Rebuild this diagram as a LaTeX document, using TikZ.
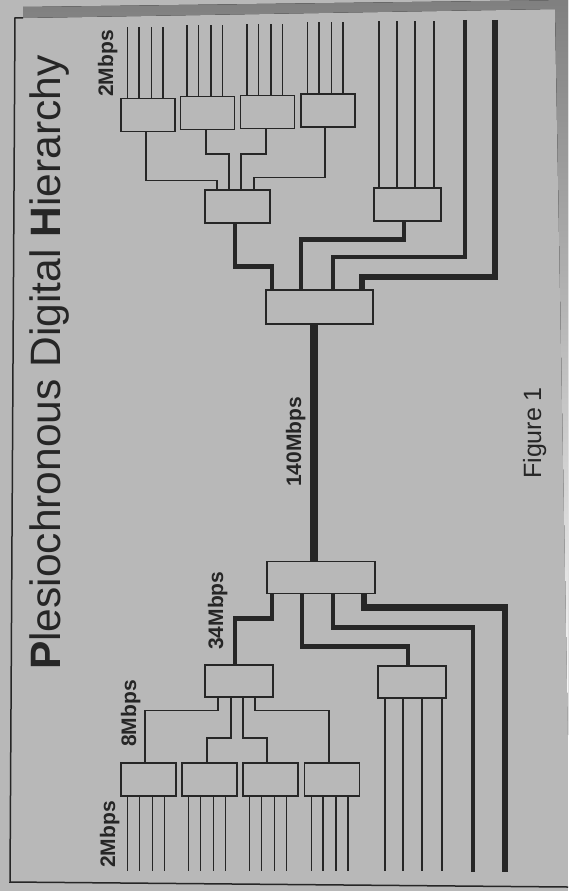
\documentclass[tikz,border=0pt]{standalone}
\usepackage{fontspec}
\setmainfont{Liberation Sans}
\definecolor{paper}{RGB}{184,184,184}
\definecolor{ink}{RGB}{38,38,38}
\definecolor{shade}{RGB}{30,30,30}
\begin{document}
\begin{tikzpicture}[x=1pt,y=-1pt,
  box/.style 2 args={draw=ink,line width=1.4pt,fill=paper,rectangle,inner sep=0pt,minimum width=#1,minimum height=#2},
  ltwo/.style={draw=ink,line width=1.1pt},
  leight/.style={draw=ink,line width=1.4pt},
  leighti/.style={draw=ink,line width=2.2pt},
  lthirty/.style={draw=ink,line width=4.5pt},
  lforty/.style={draw=ink,line width=6.5pt},
  llink/.style={draw=ink,line width=7.5pt},
  lab/.style={rotate=90,anchor=base west,inner sep=0pt,text=ink,font=\bfseries\fontsize{21}{21}\selectfont}]
\useasboundingbox (0,0) rectangle (568,891);
\fill[paper] (0,0) rectangle (568,891);
% frame and shadow
\fill[shade] (23,7) -- (568,0) -- (568,735) -- (555,9) -- (23,18) -- cycle;
\draw[ink,line width=1.5pt] (23,18) -- (15,18) -- (10,882) -- (568,887);
% title and captions
\node[rotate=90,anchor=base west,inner sep=0pt,text=ink,font=\fontsize{42.5}{42.5}\selectfont] (title) at (60,670) {{\bfseries P}lesiochronous Digital {\bfseries H}ierarchy};
\node[rotate=90,anchor=base west,inner sep=0pt,text=ink,font=\fontsize{25}{25}\selectfont] (fig) at (541,479) {Figure 1};
\node[lab] (ltwotop) at (113,97) {2Mbps};
\node[lab] (ltwobot) at (115,868) {2Mbps};
\node[lab] (leightl) at (136,747) {8Mbps};
\node[lab] (lthirtyl) at (223,650) {34Mbps};
\node[lab] (lfortyl) at (301,487) {140Mbps};
% top half boxes
\node[box={54pt}{33pt}] (ta1) at (148,115) {};
\node[box={54pt}{33pt}] (ta2) at (207.5,113) {};
\node[box={54pt}{33pt}] (ta3) at (267.5,112) {};
\node[box={54pt}{33pt}] (ta4) at (328,110.5) {};
\node[box={65pt}{33pt}] (tm) at (237.5,206.5) {};
\node[box={67pt}{33pt}] (tb) at (407.5,204.5) {};
\node[box={107pt}{34pt}] (tx) at (319.5,307) {};
% bottom half boxes
\node[box={108pt}{32pt}] (bx) at (321,577.5) {};
\node[box={68pt}{32pt}] (bm) at (239,681) {};
\node[box={68pt}{32pt}] (bb) at (412,682) {};
\node[box={55pt}{33pt}] (ba1) at (148.5,779.5) {};
\node[box={55pt}{33pt}] (ba2) at (209.5,779.5) {};
\node[box={55pt}{33pt}] (ba3) at (270.5,779.5) {};
\node[box={55pt}{33pt}] (ba4) at (332,779.5) {};
% 2 Mbps tributaries
\foreach \n in {ta1,ta2,ta3,ta4}{\foreach \d in {-20.5,-9,3.5,15}{\draw[ltwo] ([xshift=\d pt]\n.north) -- ++(0,-71);}}
\foreach \n in {ba1,ba2,ba3,ba4}{\foreach \d in {-20.75,-9,4,16}{\draw[ltwo] ([xshift=\d pt]\n.south) -- ++(0,74);}}
\foreach \d in {-28.5,-10.5,7.5,26.5}{\draw[ltwo] ([xshift=\d pt]tb.north) -- ++(0,-166);}
\foreach \d in {-27,-9,10,30}{\draw[ltwo] ([xshift=\d pt]bb.south) -- ++(0,172);}
% 8 Mbps links
\draw[leight] ([xshift=-2pt]ta1.south) -- ++(0,48.5) -| ([xshift=-20.5pt]tm.north);
\draw[leighti] ([xshift=-1.5pt]ta2.south) -- ++(0,24) -| ([xshift=-8.5pt]tm.north);
\draw[leighti] ([xshift=-1.5pt]ta3.south) -- ++(0,24.5) -| ([xshift=3.5pt]tm.north);
\draw[leight] ([xshift=-3pt]ta4.south) -- ++(0,50) -| ([xshift=16.5pt]tm.north);
\draw[leight] ([xshift=-21pt]bm.south) -- ++(0,13) -| ([xshift=-3.5pt]ba1.north);
\draw[leighti] ([xshift=-8pt]bm.south) -- ++(0,40) -| ([xshift=-2.5pt]ba2.north);
\draw[leighti] ([xshift=4pt]bm.south) -- ++(0,40) -| ([xshift=-3.5pt]ba3.north);
\draw[leight] ([xshift=16pt]bm.south) -- ++(0,13) -| ([xshift=-3pt]ba4.north);
% 34 Mbps links
\coordinate (tinthirty) at (465,20);
\coordinate (tinforty) at (495,20);
\coordinate (boutthirty) at (473,872);
\coordinate (boutforty) at (505,872);
\draw[lthirty] ([xshift=-2.5pt]tm.south) -- ++(0,43) -| ([xshift=-47.5pt]tx.north);
\draw[lthirty] ([xshift=-3.5pt]tb.south) -- ++(0,18) -| ([xshift=-18.5pt]tx.north);
\draw[lthirty] (tinthirty) -- ++(0,237) -| ([xshift=13.5pt]tx.north);
\draw[lforty] (tinforty) -- ++(0,257) -| ([xshift=42.5pt]tx.north);
\draw[lthirty] ([xshift=-49pt]bx.south) -- ++(0,24.5) -| ([xshift=-4pt]bm.north);
\draw[lthirty] ([xshift=-19pt]bx.south) -- ++(0,52.5) -| ([xshift=-4pt]bb.north);
\draw[lthirty] ([xshift=12pt]bx.south) -- ++(0,33.5) -| (boutthirty);
\draw[lforty] ([xshift=43pt]bx.south) -- ++(0,13.5) -| (boutforty);
% 140 Mbps link
\draw[llink] ([xshift=-5.5pt]tx.south) -- ([xshift=-7pt]bx.north);
\end{tikzpicture}
\end{document}
